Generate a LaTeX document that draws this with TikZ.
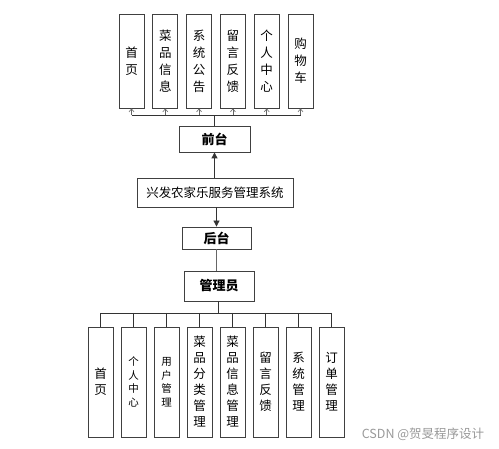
\documentclass[tikz,border=0pt]{standalone}
\usepackage{fontspec}
\newfontfamily\cjk{Noto Sans CJK SC}
\usetikzlibrary{arrows.meta}

\begin{document}
\begin{tikzpicture}[x=1pt,y=-1pt,
  box/.style={draw=black!75,line width=0.8pt,inner sep=0pt,align=center,
    font=\cjk\fontsize{12.5}{17}\selectfont},
  tall/.style={box,minimum width=25pt,minimum height=94pt},
  low/.style={box,minimum width=25pt,minimum height=110pt,
    font=\cjk\fontsize{12.5}{16}\selectfont},
  txtbig/.style={},
  txtsmall/.style={font=\cjk\fontsize{10.5}{13.5}\selectfont},
  bold/.style={font=\cjk\bfseries\fontsize{13}{15}\selectfont},
  wire/.style={draw=black!80,line width=0.8pt}]
  \useasboundingbox (0,0) rectangle (499,449);

  % front side
  \foreach \t [count=\i] in {{首\\页},{菜\\品\\信\\息},{系\\统\\公\\告},
      {留\\言\\反\\馈},{个\\人\\中\\心},{购\\物\\车}}
    \node[tall] (top\i) at ({131.5+33.8*(\i-1)},61) {\t};
  \node[box,bold,minimum width=71pt,minimum height=26pt] (qt) at (214.5,139) {前台};
  \node[box,minimum width=156pt,minimum height=29pt] (sys) at (215,192.5) {兴发农家乐服务管理系统};
  \node[box,bold,minimum width=69pt,minimum height=22pt] (ht) at (216.5,238) {后台};
  \node[box,bold,minimum width=70pt,minimum height=30pt] (adm) at (219,286) {管理员};

  \coordinate (tbus) at (214.5,115);
  \draw[wire] (qt.north) -- (tbus);
  \draw[wire] (top1.south |- tbus) -- (top6.south |- tbus);
  \foreach \i in {1,...,6}
    \draw[black!60,line width=0.6pt,-{Straight Barb[length=3pt,width=5pt]}]
      (top\i.south |- tbus) -- (top\i.south);

  \draw[wire,-{Triangle[length=6pt,width=6pt]}] (sys.north -| qt) -- (qt.south);
  \draw[wire,-{Triangle[length=6pt,width=6pt]}] (sys.south -| ht) -- (ht.north);
  \draw[black!60,line width=0.6pt] (ht.south) -- (ht.south |- adm.north);

  % back side
  \foreach \t/\f [count=\i] in {{首\\页}/txtbig,{个\\人\\中\\心}/txtsmall,{用\\户\\管\\理}/txtsmall,
      {菜\\品\\分\\类\\管\\理}/txtbig,{菜\\品\\信\\息\\管\\理}/txtbig,{留\\言\\反\\馈}/txtbig,
      {系\\统\\管\\理}/txtbig,{订\\单\\管\\理}/txtbig}
    \node[low,\f] (bot\i) at ({100.5+33*(\i-1)},382) {\t};

  \coordinate (bbus) at (218,313);
  \draw[wire] (adm.south -| bbus) -- (bbus);
  \draw[wire] (bot1.north |- bbus) -- (bot8.north |- bbus);
  \foreach \i in {1,...,8}
    \draw[wire] (bot\i.north |- bbus) -- (bot\i.north);

  \node[text=black!40,font=\cjk\fontsize{12.5}{14}\selectfont] (mark) at (423,434) {CSDN @贺旻程序设计};
\end{tikzpicture}
\end{document}
